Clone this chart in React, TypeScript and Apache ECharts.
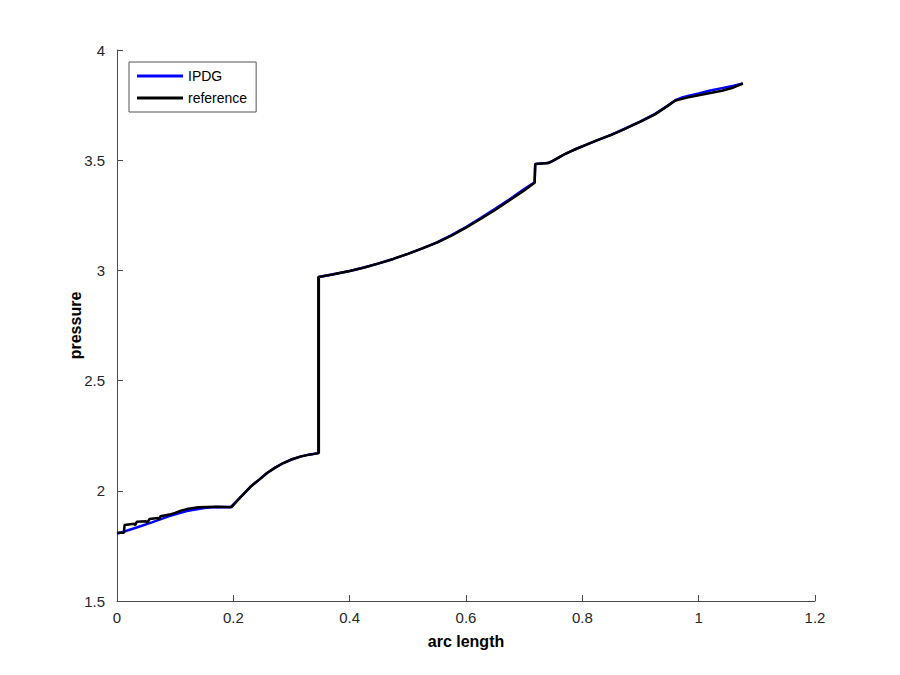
import React, { useEffect, useRef } from "react";
import * as echarts from "echarts";

const ipdgX = [0, 0.03, 0.06, 0.09, 0.12, 0.15, 0.17, 0.195, 0.21, 0.229, 0.245, 0.258, 0.272, 0.286, 0.3, 0.315, 0.33, 0.346, 0.346, 0.37, 0.4, 0.425, 0.45, 0.475, 0.5, 0.525, 0.55, 0.575, 0.6, 0.625, 0.65, 0.675, 0.7, 0.718, 0.719, 0.741, 0.75, 0.76, 0.77, 0.78, 0.79, 0.8, 0.825, 0.85, 0.875, 0.9, 0.925, 0.945, 0.96, 0.97, 0.985, 1.0, 1.02, 1.04, 1.06, 1.076];
const ipdgY = [1.805, 1.83, 1.857, 1.885, 1.908, 1.922, 1.926, 1.925, 1.965, 2.017, 2.052, 2.081, 2.105, 2.126, 2.142, 2.155, 2.164, 2.171, 2.97, 2.981, 2.997, 3.013, 3.032, 3.052, 3.075, 3.1, 3.127, 3.16, 3.197, 3.237, 3.279, 3.323, 3.369, 3.4, 3.483, 3.487, 3.498, 3.513, 3.528, 3.54, 3.552, 3.563, 3.59, 3.616, 3.645, 3.676, 3.71, 3.745, 3.772, 3.783, 3.794, 3.803, 3.816, 3.827, 3.838, 3.848];

const refX = [0, 0.012, 0.013, 0.03, 0.031, 0.034, 0.05, 0.052, 0.056, 0.07, 0.072, 0.075, 0.09, 0.1, 0.11, 0.12, 0.14, 0.17, 0.197, 0.21, 0.229, 0.245, 0.258, 0.272, 0.286, 0.3, 0.315, 0.33, 0.347, 0.347, 0.37, 0.4, 0.425, 0.45, 0.475, 0.5, 0.525, 0.55, 0.575, 0.6, 0.625, 0.65, 0.675, 0.7, 0.718, 0.719, 0.741, 0.75, 0.76, 0.77, 0.78, 0.79, 0.8, 0.825, 0.85, 0.875, 0.9, 0.925, 0.945, 0.96, 0.98, 1.0, 1.02, 1.04, 1.06, 1.076];
const refY = [1.81, 1.81, 1.845, 1.85, 1.843, 1.86, 1.862, 1.855, 1.872, 1.877, 1.87, 1.885, 1.892, 1.9, 1.91, 1.917, 1.925, 1.928, 1.926, 1.965, 2.017, 2.052, 2.081, 2.105, 2.126, 2.142, 2.155, 2.164, 2.171, 2.97, 2.981, 2.997, 3.013, 3.032, 3.052, 3.075, 3.1, 3.126, 3.158, 3.194, 3.233, 3.274, 3.318, 3.363, 3.398, 3.483, 3.487, 3.498, 3.513, 3.528, 3.54, 3.552, 3.563, 3.59, 3.615, 3.644, 3.675, 3.708, 3.743, 3.771, 3.784, 3.795, 3.805, 3.815, 3.83, 3.848];

const xTicks = { min: 0, max: 1.2, interval: 0.2 };
const yTicks = { min: 1.5, max: 4, interval: 0.5 };
const seriesNames = ["IPDG", "reference"];

export default function App() {
  const ref = useRef<HTMLDivElement>(null);
  useEffect(() => {
    if (!ref.current) return;
    const chart = echarts.init(ref.current, null, { renderer: "svg" });
    const axisColor = "#4a4a4a";
    const font = "'Liberation Sans', Arial, sans-serif";
    chart.setOption({
      animation: false,
      backgroundColor: "#ffffff",
      grid: { left: 117, right: 85, top: 50, bottom: 74, containLabel: false },
      legend: {
        orient: "vertical",
        left: 129,
        top: 62,
        data: seriesNames,
        icon: "rect",
        itemWidth: 46,
        itemHeight: 3,
        itemGap: 6,
        padding: [6, 9, 6, 8],
        borderColor: "#555",
        borderWidth: 1,
        backgroundColor: "#fff",
        textStyle: { fontFamily: font, fontSize: 14, color: "#000", lineHeight: 16 },
      },
      xAxis: {
        type: "value",
        min: xTicks.min,
        max: xTicks.max,
        interval: xTicks.interval,
        name: "arc length",
        nameLocation: "middle",
        nameGap: 32,
        nameMoveOverlap: false,
        nameTextStyle: { fontFamily: font, fontSize: 16, fontWeight: "bold", color: "#000" },
        axisLine: { show: true, lineStyle: { color: axisColor, width: 1 } },
        axisTick: { show: true, inside: true, length: 6, lineStyle: { color: axisColor } },
        axisLabel: { fontFamily: font, fontSize: 15, color: "#262626", margin: 9 },
        splitLine: { show: false },
      },
      yAxis: {
        type: "value",
        min: yTicks.min,
        max: yTicks.max,
        interval: yTicks.interval,
        name: "pressure",
        nameLocation: "middle",
        nameGap: 34,
        nameRotate: 90,
        nameMoveOverlap: false,
        nameTextStyle: { fontFamily: font, fontSize: 16, fontWeight: "bold", color: "#000" },
        axisLine: { show: true, lineStyle: { color: axisColor, width: 1 } },
        axisTick: { show: true, inside: true, length: 6, lineStyle: { color: axisColor } },
        axisLabel: { fontFamily: font, fontSize: 15, color: "#262626", margin: 12 },
        splitLine: { show: false },
      },
      series: [
        {
          name: seriesNames[0],
          type: "line",
          data: ipdgX.map((x, i) => [x, ipdgY[i]]),
          showSymbol: false,
          lineStyle: { color: "#0000ff", width: 2.5 },
          itemStyle: { color: "#0000ff" },
        },
        {
          name: seriesNames[1],
          type: "line",
          data: refX.map((x, i) => [x, refY[i]]),
          showSymbol: false,
          lineStyle: { color: "#000000", width: 2.5 },
          itemStyle: { color: "#000000" },
        },
      ],
    });
    return () => chart.dispose();
  }, []);
  return <div ref={ref} style={{ width: 900, height: 675, position: "absolute", left: 0, top: 0 }} />;
}
